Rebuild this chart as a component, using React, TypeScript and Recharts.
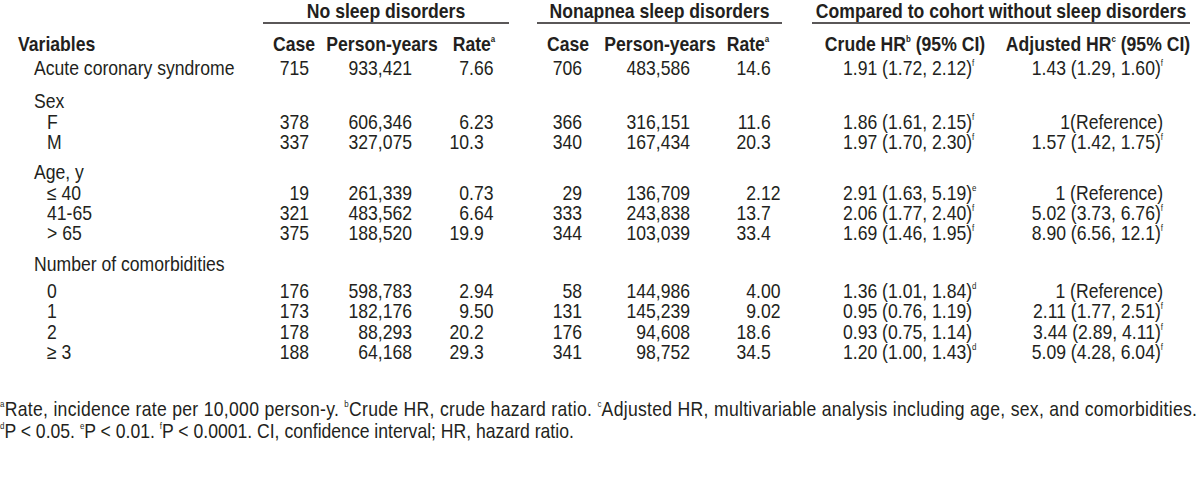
import React from "react";
import { ScatterChart, Scatter, XAxis, YAxis, ReferenceLine } from "recharts";

// table content
const groupTitles = ["No sleep disorders", "Nonapnea sleep disorders", "Compared to cohort without sleep disorders"];
const columnTitles = ["Case", "Person-years", "Rate", "Case", "Person-years", "Rate", "Crude HR", "Adjusted HR"];
const columnMarks = ["", "", "a", "", "", "a", "b", "c"];
const columnTails = ["", "", "", "", "", "", " (95% CI)", " (95% CI)"];

const variables = [
  "Acute coronary syndrome", "Sex", "F", "M", "Age, y", "≤ 40", "41-65", "> 65",
  "Number of comorbidities", "0", "1", "2", "≥ 3",
];
const variableLevels = [1, 1, 2, 2, 1, 2, 2, 2, 1, 2, 2, 2, 2];

const noSleepCases = [715, null, 378, 337, null, 19, 321, 375, null, 176, 173, 178, 188];
const noSleepPersonYears = [933421, null, 606346, 327075, null, 261339, 483562, 188520, null, 598783, 182176, 88293, 64168];
const noSleepRates = ["7.66", "", "6.23", "10.3", "", "0.73", "6.64", "19.9", "", "2.94", "9.50", "20.2", "29.3"];

const nonapneaCases = [706, null, 366, 340, null, 29, 333, 344, null, 58, 131, 176, 341];
const nonapneaPersonYears = [483586, null, 316151, 167434, null, 136709, 243838, 103039, null, 144986, 145239, 94608, 98752];
const nonapneaRates = ["14.6", "", "11.6", "20.3", "", "2.12", "13.7", "33.4", "", "4.00", "9.02", "18.6", "34.5"];

const crudeHr = [
  "1.91 (1.72, 2.12)", "", "1.86 (1.61, 2.15)", "1.97 (1.70, 2.30)", "", "2.91 (1.63, 5.19)",
  "2.06 (1.77, 2.40)", "1.69 (1.46, 1.95)", "", "1.36 (1.01, 1.84)", "0.95 (0.76, 1.19)",
  "0.93 (0.75, 1.14)", "1.20 (1.00, 1.43)",
];
const crudeMarks = ["f", "", "f", "f", "", "e", "f", "f", "", "d", "", "", "d"];
const adjustedHr = [
  "1.43 (1.29, 1.60)", "", "1(Reference)", "1.57 (1.42, 1.75)", "", "1 (Reference)",
  "5.02 (3.73, 6.76)", "8.90 (6.56, 12.1)", "", "1 (Reference)", "2.11 (1.77, 2.51)",
  "3.44 (2.89, 4.11)", "5.09 (4.28, 6.04)",
];
const adjustedMarks = ["f", "", "", "f", "", "", "f", "f", "", "", "f", "f", "f"];

const footnoteMarks = [["a", "b", "c"], ["d", "e", "f"]];
const footnoteTexts = [
  ["Rate, incidence rate per 10,000 person-y. ", "Crude HR, crude hazard ratio. ", "Adjusted HR, multivariable analysis including age, sex, and comorbidities."],
  ["P < 0.05. ", "P < 0.01. ", "P < 0.0001. CI, confidence interval; HR, hazard ratio."],
];

// layout
const W = 1200;
const H = 499;
const FONT = "'Liberation Sans', Arial, sans-serif";
const SX = 0.88; // narrow face: squeeze glyphs horizontally
const INK = "#231f20";
const groupSpans = [[263, 509], [537, 782], [812, 1190]];
const groupY = 11;
const ruleY = 23;
const headY = 44;
const headX = [294, 382, 474, 568, 660, 748, 905, 1098];
// anchor x and alignment of each value column
const valueX = [309, 412, 469, 582, 690, 756, 843, 1163];
const valueAlign = ["end", "end", "decimal", "end", "end", "decimal", "start", "end"];
const rowY = [68, 101, 122, 142, 172, 193, 213, 233, 264, 291, 311, 332, 352];
const footY = [409, 431];
const footWidth = 1197;
const SUP = 9;
const SUP_DY = -5;

type Cell = {
  x: number; y: number; text: string; mark?: string; tail?: string; align: string;
  bold?: boolean; justify?: number; foot?: { marks: string[]; texts: string[] };
};

const fmt = (v: number | null) => (v == null ? "" : v.toLocaleString("en-US"));

function buildCells(): Cell[] {
  const cells: Cell[] = [];
  groupTitles.forEach((t, i) => {
    cells.push({ x: (groupSpans[i][0] + groupSpans[i][1]) / 2, y: groupY, text: t, align: "middle", bold: true });
  });
  cells.push({ x: 18, y: headY, text: "Variables", align: "start", bold: true });
  columnTitles.forEach((t, i) => {
    cells.push({ x: headX[i], y: headY, text: t, mark: columnMarks[i], tail: columnTails[i], align: "middle", bold: true });
  });
  variables.forEach((label, r) => {
    const y = rowY[r];
    cells.push({ x: variableLevels[r] === 1 ? 34 : 47, y, text: label, align: "start" });
    const cols: [string, string][] = [
      [fmt(noSleepCases[r]), ""],
      [fmt(noSleepPersonYears[r]), ""],
      [noSleepRates[r], ""],
      [fmt(nonapneaCases[r]), ""],
      [fmt(nonapneaPersonYears[r]), ""],
      [nonapneaRates[r], ""],
      [crudeHr[r], crudeMarks[r]],
      [adjustedHr[r], adjustedMarks[r]],
    ];
    cols.forEach(([text, mark], c) => {
      if (!text) return;
      cells.push({ x: valueX[c], y, text, mark, align: valueAlign[c] });
    });
  });
  footnoteTexts.forEach((texts, i) => {
    cells.push({
      x: 0, y: footY[i], text: "", align: "start",
      foot: { marks: footnoteMarks[i], texts }, justify: i === 0 ? footWidth : undefined,
    });
  });
  return cells;
}

const cells = buildCells();

function CellText(props: any) {
  const { cx, cy, payload } = props;
  const c: Cell = payload;
  const base = { fill: INK, fontFamily: FONT, fontSize: 20, dominantBaseline: "central" as const };
  let body: React.ReactNode;
  if (c.foot) {
    body = (
      <text x={0} y={0} {...base} textAnchor="start"
        textLength={c.justify ? c.justify / SX : undefined} lengthAdjust={c.justify ? "spacing" : undefined}>
        {c.foot.marks.map((m, i) => (
          <React.Fragment key={i}>
            <tspan dy={SUP_DY} fontSize={SUP}>{m}</tspan>
            <tspan dy={-SUP_DY}>{c.foot!.texts[i]}</tspan>
          </React.Fragment>
        ))}
      </text>
    );
  } else if (c.align === "decimal") {
    const [a, b] = c.text.split(".");
    body = (
      <>
        <text x={0} y={0} {...base} textAnchor="end">{a}</text>
        <text x={0} y={0} {...base} textAnchor="start">.{b}</text>
      </>
    );
  } else {
    body = (
      <text x={0} y={0} {...base} textAnchor={c.align as any} fontWeight={c.bold ? 700 : 400}>
        {c.text}
        {c.mark ? <tspan dy={SUP_DY} fontSize={SUP}>{c.mark}</tspan> : null}
        {c.tail ? <tspan dy={-SUP_DY}>{c.tail}</tspan> : null}
      </text>
    );
  }
  return <g transform={`translate(${cx} ${cy}) scale(${SX} 1)`}>{body}</g>;
}

export default function App() {
  return (
    <div style={{ width: W, height: H, background: "#fff" }}>
      <style>{"body{margin:0}"}</style>
      <ScatterChart width={W} height={H} margin={{ top: 0, right: 0, bottom: 0, left: 0 }}>
        <XAxis type="number" dataKey="x" domain={[0, W]} hide />
        <YAxis type="number" dataKey="y" domain={[0, H]} reversed hide />
        {groupSpans.map(([a, b], i) => (
          <ReferenceLine key={i} segment={[{ x: a, y: ruleY }, { x: b, y: ruleY }]} stroke={INK} strokeWidth={1.6} />
        ))}
        <Scatter data={cells} shape={CellText} isAnimationActive={false} />
      </ScatterChart>
    </div>
  );
}
